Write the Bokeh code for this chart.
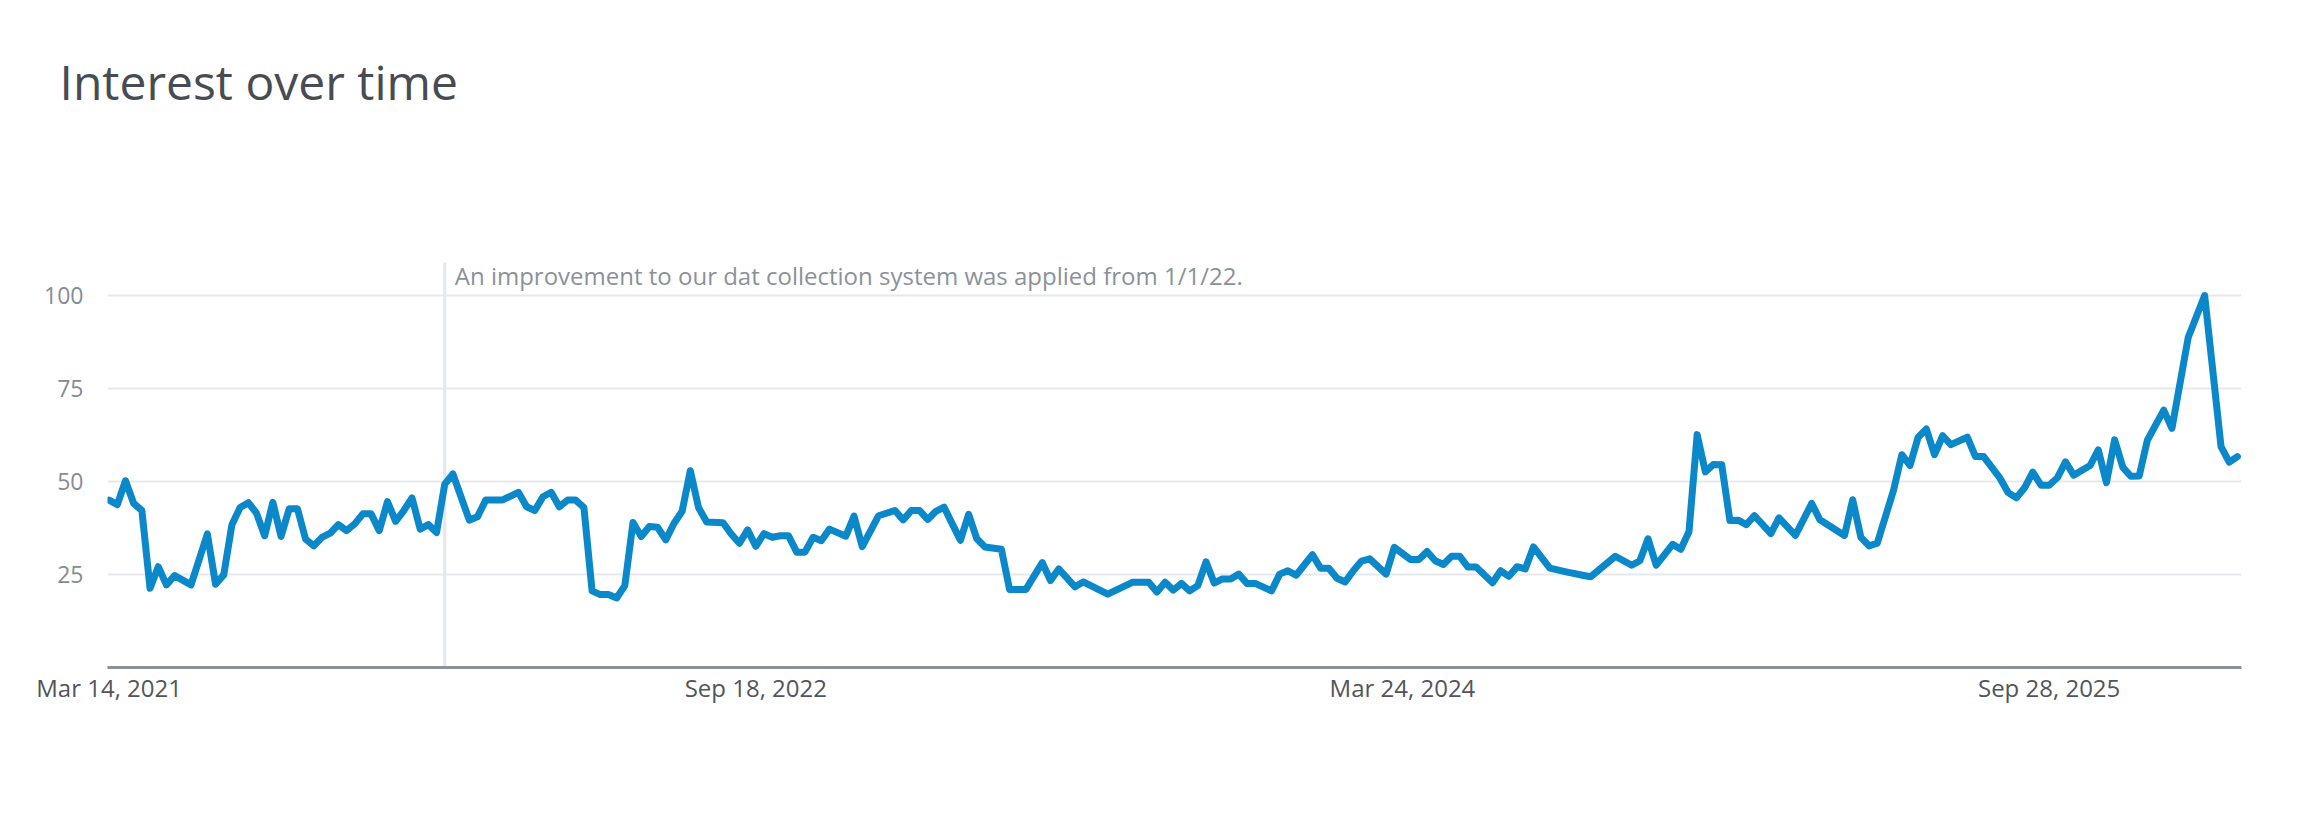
import numpy as np
import pandas as pd
from bokeh.plotting import figure
from bokeh.models import Range1d, FixedTicker, DatetimeTickFormatter, Label, Title
from bokeh.embed import file_html
from bokeh.resources import INLINE

# ---------------- data ----------------
start_date = "2021-03-14"          # first weekly point
week_offsets = [
    0, 1, 2, 3, 4, 5, 6, 7, 8, 10, 12, 13, 14, 15, 16, 17, 18, 19, 20, 21,
    22, 23, 24, 25, 26, 27, 28, 29, 30, 31, 32, 33, 34, 35, 36, 37, 38, 39, 40, 41,
    42, 44, 45, 46, 48, 50, 51, 52, 53, 54, 55, 56, 57, 58, 59, 60, 61, 62, 63, 64,
    65, 66, 67, 68, 69, 70, 71, 72, 73, 75, 76, 77, 78, 79, 80, 81, 82, 83, 84, 85,
    86, 87, 88, 90, 91, 92, 94, 96, 97, 98, 99, 100, 101, 102, 103, 104, 105, 106, 107, 109,
    110, 112, 114, 115, 116, 118, 119, 122, 125, 127, 128, 129, 130, 131, 132, 133, 134, 135, 136, 137,
    138, 139, 140, 142, 143, 144, 145, 147, 148, 149, 150, 151, 152, 153, 154, 156, 157, 159, 160, 161,
    162, 163, 164, 165, 166, 167, 169, 170, 171, 172, 173, 174, 176, 178, 180, 181, 184, 186, 187, 188,
    189, 191, 192, 193, 194, 195, 196, 197, 198, 199, 200, 201, 203, 204, 206, 208, 209, 212, 213, 214,
    215, 216, 218, 219, 220, 221, 222, 223, 224, 225, 227, 228, 229, 231, 232, 233, 234, 235, 236, 237,
    238, 239, 240, 242, 243, 244, 245, 246, 247, 248, 249, 251, 252, 254, 256, 258, 259, 260,
]
interest = [
    45.0, 43.8, 50.2, 44.1, 42.2, 21.3, 27.1, 22.2, 24.7, 22.2, 35.9, 22.4, 24.9, 38.4, 43.0, 44.3, 41.5, 35.4, 44.4, 35.2,
    42.7, 42.7, 34.5, 32.7, 35.0, 36.1, 38.4, 36.8, 38.6, 41.3, 41.3, 36.8, 44.6, 39.3, 42.2, 45.6, 37.2, 38.4, 36.3, 49.3,
    52.0, 39.6, 40.5, 45.0, 45.0, 47.1, 43.2, 42.2, 45.9, 47.1, 43.2, 45.0, 45.0, 43.0, 20.6, 19.6, 19.6, 18.7, 22.0, 39.0,
    35.2, 37.9, 37.7, 34.3, 38.7, 42.0, 52.9, 43.0, 39.1, 38.9, 35.9, 33.4, 37.0, 32.6, 36.0, 35.0, 35.4, 35.4, 31.0, 31.0,
    35.0, 34.1, 37.2, 35.3, 40.7, 32.5, 40.8, 42.2, 39.7, 42.2, 42.2, 39.8, 42.0, 43.1, 38.6, 34.2, 41.2, 34.6, 32.4, 31.8,
    21.0, 21.0, 28.2, 23.4, 26.5, 21.7, 23.0, 19.7, 22.9, 22.9, 20.3, 22.9, 20.8, 22.6, 20.6, 22.0, 28.4, 22.7, 23.8, 23.8,
    25.1, 22.6, 22.6, 20.6, 25.1, 26.0, 24.8, 30.3, 26.7, 26.7, 24.0, 23.0, 26.0, 28.6, 29.2, 25.1, 32.3, 29.0, 29.0, 31.2,
    28.7, 27.7, 29.9, 29.9, 27.0, 27.0, 22.8, 26.0, 24.5, 27.1, 26.5, 32.4, 26.7, 25.7, 24.8, 24.4, 29.9, 27.5, 28.7, 34.6,
    27.5, 33.1, 31.8, 36.5, 62.6, 52.6, 54.6, 54.5, 39.5, 39.6, 38.4, 40.8, 36.0, 40.2, 35.5, 44.1, 39.7, 35.5, 45.1, 35.0,
    32.7, 33.4, 47.7, 57.2, 54.3, 61.9, 64.1, 57.2, 62.3, 59.9, 61.9, 56.7, 56.7, 50.9, 47.0, 45.6, 48.3, 52.5, 49.0, 49.0,
    51.0, 55.3, 51.7, 54.3, 58.5, 49.7, 61.2, 53.8, 51.4, 51.5, 61.1, 69.2, 64.3, 88.8, 100.0, 59.4, 55.2, 56.7,
]
tick_dates = ["2021-03-14", "2022-09-18", "2024-03-24", "2025-09-28"]
y_ticks = [25, 50, 75, 100]
note_date = "2021-12-26"
note_text = "An improvement to our dat collection system was applied from 1/1/22."
title_text = "Interest over time"

# ---------------- build ----------------
start = pd.Timestamp(start_date)
dates = [start + pd.Timedelta(weeks=w) for w in week_offsets]

def ms(ts):
    return pd.Timestamp(ts).value / 1e6

week_ms = 7 * 24 * 3600 * 1000.0
x_start = ms(dates[0]) - 0.2 * week_ms
x_end = ms(dates[-1]) + 0.5 * week_ms

FONT = "Open Sans"
Y_TOP = 141.67      # frame reaches up to the title area
NOTE_TOP = 108.9    # height of the vertical note marker

p = figure(width=2300, height=840, x_axis_type="datetime",
           x_range=Range1d(x_start, x_end), y_range=Range1d(0, Y_TOP),
           output_backend="svg", toolbar_location=None,
           min_border_left=107, min_border_right=59,
           min_border_top=140, min_border_bottom=173)
p.outline_line_color = None
p.background_fill_color = "white"
p.border_fill_color = "white"

# title (above panel)
p.title = Title(text=title_text, align="left", vertical_align="top",
                offset=-48, standoff=50,
                text_font=FONT, text_font_size="48px", text_font_style="normal",
                text_color="#474c52")

# grid
p.xgrid.visible = False
p.ygrid.ticker = FixedTicker(ticks=y_ticks)
p.ygrid.grid_line_color = "#e5e9ed"
p.ygrid.grid_line_width = 2

# y axis
p.yaxis.ticker = FixedTicker(ticks=y_ticks)
p.yaxis.axis_line_color = None
p.yaxis.major_tick_line_color = None
p.yaxis.minor_tick_line_color = None
p.yaxis.major_label_text_font = FONT
p.yaxis.major_label_text_font_size = "23px"
p.yaxis.major_label_text_color = "#858c93"
p.yaxis.major_label_standoff = 18

# x axis
p.xaxis.ticker = FixedTicker(ticks=[ms(t) for t in tick_dates])
fmt = "%b %d, %Y"
p.xaxis.formatter = DatetimeTickFormatter(days=fmt, months=fmt, years=fmt,
                                          hours=fmt, minutes=fmt, seconds=fmt)
p.xaxis.axis_line_color = "#8a9299"
p.xaxis.axis_line_width = 3
p.xaxis.major_tick_line_color = None
p.xaxis.minor_tick_line_color = None
p.xaxis.major_label_text_font = FONT
p.xaxis.major_label_text_font_size = "24px"
p.xaxis.major_label_text_color = "#50565c"
p.xaxis.major_label_standoff = -3

# note marker
note_ms = ms(note_date)
p.segment(x0=[note_ms], y0=[0], x1=[note_ms], y1=[NOTE_TOP],
          line_color="#e3e8ee", line_width=3)
p.add_layout(Label(x=note_ms, y=105.3, x_offset=10, text=note_text,
                   text_font=FONT, text_font_size="24px", text_color="#8a9299",
                   text_baseline="alphabetic"))

# series
p.line(dates, interest, line_color="#0a88c9", line_width=7,
       line_join="round", line_cap="round")

open("out.html", "w").write(file_html(p, INLINE))
